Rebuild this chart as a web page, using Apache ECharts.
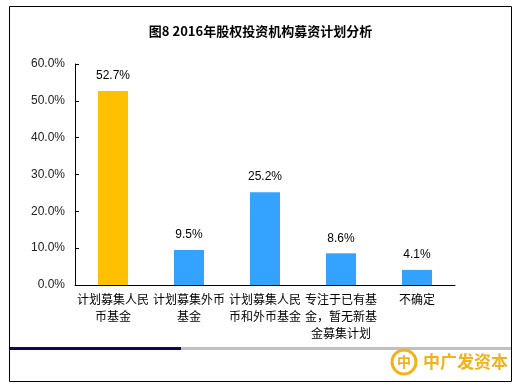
<!DOCTYPE html>
<html>
<head>
<meta charset="utf-8">
<script src="https://cdn.jsdelivr.net/npm/echarts@6/dist/echarts.min.js"></script>
<style>html,body{margin:0;padding:0;background:#fff}#c{width:521px;height:390px}</style>
</head>
<body>
<div id="c"></div>
<script>
var titleText = '图8 2016年股权投资机构募资计划分析';
var categories = ['计划募集人民\n币基金', '计划募集外币\n基金', '计划募集人民\n币和外币基金', '专注于已有基\n金，暂无新基\n金募集计划', '不确定'];
var values = [52.7, 9.5, 25.2, 8.6, 4.1];
var barColors = ['#FFC000', '#33A3FF', '#33A3FF', '#33A3FF', '#33A3FF'];
var yTicks = [0, 10, 20, 30, 40, 50, 60];

var chart = echarts.init(document.getElementById('c'), null, {renderer: 'canvas'});
chart.setOption({
  animation: false,
  backgroundColor: '#fff',
  title: {
    text: titleText, left: 'center', top: 20,
    textStyle: {fontSize: 13, fontWeight: 'bold', color: '#000', fontFamily: '"Noto Sans CJK SC", sans-serif'}
  },
  grid: {left: 75, right: 66, top: 64, bottom: 105, containLabel: false},
  xAxis: {
    type: 'category', data: categories,
    axisLine: {lineStyle: {color: '#000', width: 1}},
    axisTick: {inside: true, length: 4, lineStyle: {color: '#000'}},
    axisLabel: {interval: 0, color: '#000', fontSize: 12, lineHeight: 17, margin: 6,
      fontFamily: '"Noto Sans CJK SC", sans-serif'}
  },
  yAxis: {
    type: 'value', min: yTicks[0], max: yTicks[yTicks.length - 1], interval: 10,
    axisLine: {show: true, lineStyle: {color: '#000', width: 1}},
    axisTick: {show: true, inside: true, length: 4, lineStyle: {color: '#000'}},
    splitLine: {show: false},
    axisLabel: {color: '#222', fontSize: 12, margin: 10, fontFamily: 'Arial, "Liberation Sans", sans-serif',
      formatter: function (v) { return v.toFixed(1) + '%'; }}
  },
  series: [{
    type: 'bar', barWidth: 30,
    data: values.map(function (v, i) { return {value: v, itemStyle: {color: barColors[i]}}; }),
    label: {show: true, position: 'top', distance: 9, color: '#000', fontSize: 12,
      fontFamily: 'Arial, "Liberation Sans", sans-serif',
      formatter: function (p) { return p.value.toFixed(1) + '%'; }}
  }],
  graphic: [
    {type: 'rect', shape: {x: 9.5, y: 6.5, width: 502, height: 375}, style: {fill: null, stroke: '#000', lineWidth: 1}, z: 0},
    {type: 'rect', shape: {x: 10, y: 347, width: 171, height: 3}, style: {fill: '#0A0A50'}},
    {type: 'rect', shape: {x: 181, y: 347, width: 330, height: 3}, style: {fill: '#C0C0C0'}},
    {type: 'circle', shape: {cx: 404, cy: 362, r: 12}, style: {fill: '#fff', stroke: '#F2B21C', lineWidth: 3}},
    {type: 'text', x: 404, y: 362, style: {text: '中', fill: '#F2B21C', fontSize: 14, fontWeight: 'bold', align: 'center', verticalAlign: 'middle', fontFamily: '"Noto Sans CJK SC", sans-serif'}},
    {type: 'text', x: 423, y: 362, style: {text: '中广发资本', fill: '#F2B21C', fontSize: 17, fontWeight: 'bold', verticalAlign: 'middle', fontFamily: '"Noto Sans CJK SC", sans-serif'}}
  ]
});
</script>
</body>
</html>
